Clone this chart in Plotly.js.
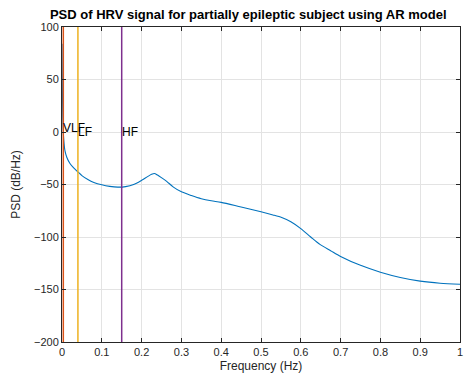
<!DOCTYPE html>
<html>
<head>
<meta charset="utf-8">
<script src="https://cdn.plot.ly/plotly-3.0.1.min.js"></script>
<style>html,body{margin:0;padding:0;background:#fff;}#chart{width:464px;height:381px;}</style>
</head>
<body>
<div id="chart"></div>
<script>
// Frequency axis (Hz) and AR-model PSD (dB/Hz)
var freq = [0, 0.001, 0.002, 0.004, 0.0075, 0.012, 0.02, 0.03, 0.04, 0.05, 0.066, 0.08, 0.1, 0.12, 0.14, 0.16, 0.18, 0.2, 0.215, 0.225, 0.232, 0.24, 0.25, 0.263, 0.28, 0.3, 0.325, 0.35, 0.375, 0.4, 0.45, 0.5, 0.53, 0.552, 0.575, 0.6, 0.625, 0.648, 0.675, 0.7, 0.75, 0.8, 0.85, 0.9, 0.95, 1.0];
var psd  = [84, 40, 15, -5, -18, -24, -30, -34.5, -38, -41.5, -45.5, -48, -50.3, -51.8, -52.5, -52, -50, -46, -42.5, -40.3, -39.5, -41, -43.5, -47, -52.5, -57, -60.5, -63.5, -65.5, -67, -71.5, -76, -79, -81.5, -85.5, -92, -100, -107, -113, -118.5, -127, -133.5, -138.5, -142, -144, -145];

// Band boundaries (Hz) and labels
var bandEdges  = [0.0033, 0.04, 0.15];
var bandColors = ['#D95319', '#EDB120', '#7E2F8E'];
var bandLabels = ['VLF', 'LF', 'HF'];
var labelY     = [4, 0, 0];
var yRange = [-200, 100];

var traces = [{
  x: freq, y: psd, type: 'scatter', mode: 'lines',
  line: {color: '#0072BD', width: 1.1, shape: 'spline', smoothing: 0.8}, hoverinfo: 'skip'
}];
for (var i = 0; i < bandEdges.length; i++) {
  traces.push({
    x: [bandEdges[i], bandEdges[i]], y: yRange, type: 'scatter', mode: 'lines',
    line: {color: bandColors[i], width: 1.5}, hoverinfo: 'skip'
  });
}

var annotations = bandLabels.map(function (t, i) {
  return {x: bandEdges[i], y: labelY[i], xref: 'x', yref: 'y', text: t,
    showarrow: false, xanchor: 'left', yanchor: 'middle', xshift: -2,
    font: {family: 'Liberation Sans, Arial, sans-serif', size: 12, color: '#000'}};
});

var axisCommon = {
  showline: true, linecolor: '#262626', linewidth: 1, mirror: 'ticks',
  ticks: 'inside', ticklen: 4, tickcolor: '#262626',
  showgrid: true, gridcolor: '#e3e3e3', gridwidth: 1, zeroline: false,
  tickfont: {family: 'Liberation Sans, Arial, sans-serif', size: 11, color: '#262626'}
};

var layout = {
  width: 464, height: 381,
  margin: {l: 62, r: 4, t: 27, b: 39},
  paper_bgcolor: '#fff', plot_bgcolor: '#fff',
  showlegend: false,
  title: {text: '<b>PSD of HRV signal for partially epileptic subject using AR model</b>',
    font: {family: 'Liberation Sans, Arial, sans-serif', size: 13, color: '#000'},
    x: 0.535, xanchor: 'center', y: 0.963, yanchor: 'middle'},
  xaxis: Object.assign({}, axisCommon, {
    range: [0, 1], tickvals: [0, 0.1, 0.2, 0.3, 0.4, 0.5, 0.6, 0.7, 0.8, 0.9, 1],
    ticktext: ['0', '0.1', '0.2', '0.3', '0.4', '0.5', '0.6', '0.7', '0.8', '0.9', '1'],
    title: {text: 'Frequency (Hz)', standoff: 4,
      font: {family: 'Liberation Sans, Arial, sans-serif', size: 12, color: '#262626'}}
  }),
  yaxis: Object.assign({}, axisCommon, {
    range: yRange, tickvals: [-200, -150, -100, -50, 0, 50, 100],
    title: {text: 'PSD (dB/Hz)', standoff: 10,
      font: {family: 'Liberation Sans, Arial, sans-serif', size: 12, color: '#262626'}}
  }),
  annotations: annotations
};

Plotly.newPlot('chart', traces, layout, {displayModeBar: false, staticPlot: true});
</script>
</body>
</html>
